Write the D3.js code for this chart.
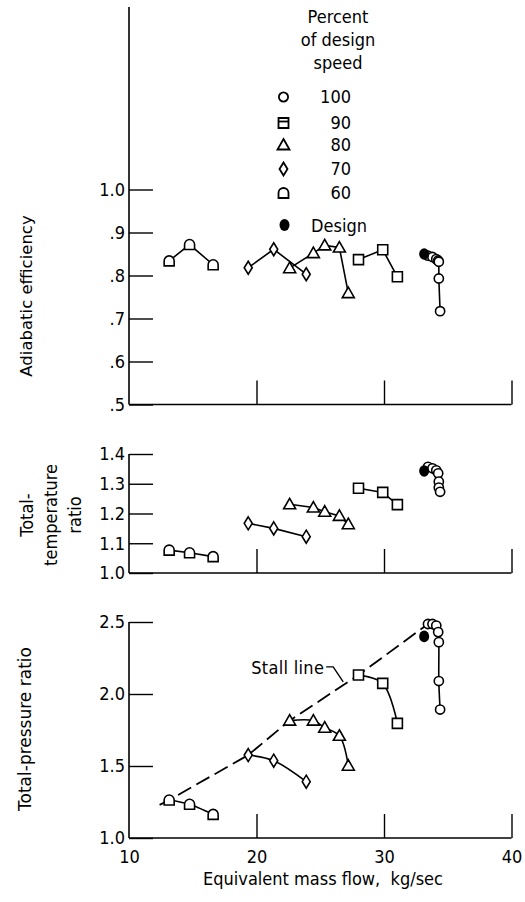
<!DOCTYPE html>
<html><head><meta charset="utf-8">
<script src="https://cdn.jsdelivr.net/npm/d3@7"></script>
<style>
html,body{margin:0;padding:0;background:#fff;}
svg{display:block;background:#fff;}
.cond{font-family:"DejaVu Sans Condensed","DejaVu Sans",sans-serif;font-stretch:condensed;font-size:18px;}
.reg{font-family:"DejaVu Sans",sans-serif;}
</style></head><body>
<svg id="chart" width="525" height="902"></svg>
<script>
// ---------------- data ----------------
const speeds = ["100", "90", "80", "70", "60"];

const flow100 = [33.45, 33.8, 34.1, 34.25, 34.3, 34.3, 34.4];
const eff100  = [0.846, 0.843, 0.838, 0.835, 0.832, 0.793, 0.717];
const temp100 = [1.357, 1.352, 1.345, 1.335, 1.307, 1.287, 1.273];
const pres100 = [2.486, 2.486, 2.475, 2.43, 2.36, 2.09, 1.892];

const flow90 = [28.0, 29.9, 31.05];
const eff90  = [0.837, 0.860, 0.797];
const temp90 = [1.285, 1.271, 1.230];
const pres90 = [2.132, 2.074, 1.796];

const flow80 = [22.6, 24.46, 25.35, 26.5, 27.2];
const eff80  = [0.817, 0.852, 0.870, 0.865, 0.759];
const temp80 = [1.231, 1.220, 1.206, 1.192, 1.164];
const pres80 = [1.815, 1.815, 1.766, 1.710, 1.502];

const flow70 = [19.35, 21.35, 23.9];
const eff70  = [0.818, 0.861, 0.803];
const temp70 = [1.167, 1.150, 1.122];
const pres70 = [1.576, 1.537, 1.391];

const flow60 = [13.15, 14.75, 16.6];
const eff60  = [0.834, 0.872, 0.825];
const temp60 = [1.077, 1.068, 1.055];
const pres60 = [1.264, 1.234, 1.164];

const designFlow = [33.15];
const designEff  = [0.850];
const designTemp = [1.343];
const designPres = [2.400];

const stallFlow = [12.4, 13.15, 19.35, 22.6, 28.0, 33.45];
const stallPres = [1.23, 1.264, 1.576, 1.815, 2.132, 2.486];

const flowTicks = [10, 20, 30, 40];
const effTicks  = [0.5, 0.6, 0.7, 0.8, 0.9, 1.0];
const tempTicks = [1.0, 1.1, 1.2, 1.3, 1.4];
const presTicks = [1.0, 1.5, 2.0, 2.5];

// ---------------- setup ----------------
const svg = d3.select("#chart");
const x = d3.scaleLinear().domain([10, 40]).range([129, 511.5]);
const yEff  = d3.scaleLinear().domain([0.5, 1.0]).range([404.5, 189.5]);
const yTemp = d3.scaleLinear().domain([1.0, 1.4]).range([573, 454]);
const yPres = d3.scaleLinear().domain([1.0, 2.5]).range([838, 622]);

const shapes = { "100": "circle", "90": "square", "80": "triangle", "70": "diamond", "60": "dome" };
const series = [
  { name: "100", flow: flow100, eff: eff100, temp: temp100, pres: pres100 },
  { name: "90",  flow: flow90,  eff: eff90,  temp: temp90,  pres: pres90 },
  { name: "80",  flow: flow80,  eff: eff80,  temp: temp80,  pres: pres80 },
  { name: "70",  flow: flow70,  eff: eff70,  temp: temp70,  pres: pres70 },
  { name: "60",  flow: flow60,  eff: eff60,  temp: temp60,  pres: pres60 }
];

function shapePath(kind) {
  switch (kind) {
    case "circle": { const r = 4.6; return `M${r},0A${r},${r} 0 1,1 ${-r},0A${r},${r} 0 1,1 ${r},0Z`; }
    case "square": return "M-5,-5H5V5H-5Z";
    case "triangle": return "M0,-6L6,4.5H-6Z";
    case "diamond": return "M0,-6.5L4,0L0,6.5L-4,0Z";
    case "dome": return "M-5,5V0A5,5 0 0,1 5,0V5Z";
  }
}

const panels = [
  { key: "eff",  y: yEff,  ticks: effTicks,  curve: d3.curveLinear, top: 7,
    fmt: d => d === 1 ? "1.0" : d3.format(".1f")(d).replace(/^0/, "") },
  { key: "temp", y: yTemp, ticks: tempTicks, curve: d3.curveLinear, top: null,
    fmt: d3.format(".1f") },
  { key: "pres", y: yPres, ticks: presTicks, curve: d3.curveCatmullRom.alpha(0.5), top: null,
    fmt: d3.format(".1f") }
];

panels.forEach((p, i) => {
  const g = svg.append("g");
  const y0 = p.y.range()[0];
  const yTop = p.top !== null ? p.top : p.y.range()[1];
  // axis lines
  g.append("line").attr("x1", x(10)).attr("x2", x(10)).attr("y1", yTop).attr("y2", y0)
    .attr("stroke", "#000").attr("stroke-width", 1.6);
  g.append("line").attr("x1", x(10)).attr("x2", x(40)).attr("y1", y0).attr("y2", y0)
    .attr("stroke", "#000").attr("stroke-width", 1.6);
  // y axis ticks + labels
  const ya = g.append("g").attr("transform", `translate(${x(10)},0)`)
    .call(d3.axisLeft(p.y).tickValues(p.ticks).tickSize(-24).tickSizeOuter(0).tickPadding(4).tickFormat(p.fmt));
  ya.select(".domain").remove();
  ya.selectAll("line").attr("stroke", "#000").attr("stroke-width", 1.4);
  ya.selectAll("text").attr("class", "cond").attr("font-size", null).attr("font-family", null).attr("fill", "#000");
  ya.attr("font-size", null).attr("font-family", null);
  // x axis ticks
  const isBottom = i === panels.length - 1;
  const xa = g.append("g").attr("transform", `translate(0,${y0})`)
    .call(d3.axisBottom(x).tickValues(isBottom ? flowTicks : flowTicks.slice(1)).tickSize(-24).tickSizeOuter(0).tickPadding(12)
      .tickFormat(isBottom ? d3.format("d") : () => ""));
  xa.select(".domain").remove();
  xa.selectAll("line").attr("stroke", "#000").attr("stroke-width", 1.4);
  xa.selectAll("text").attr("class", "cond").attr("fill", "#000");
  xa.attr("font-size", null).attr("font-family", null);
  xa.selectAll(".tick").filter(d => d === 10).select("line").remove();

  // stall line
  if (p.key === "pres") {
    const stall = stallFlow.map((f, k) => [f, stallPres[k]]);
    g.append("path").attr("d", d3.line().x(d => x(d[0])).y(d => yPres(d[1]))(stall))
      .attr("fill", "none").attr("stroke", "#000").attr("stroke-width", 1.8).attr("stroke-dasharray", "15,6");
    const ax = x(26.8), ay = yPres(2.07);
    g.append("path").attr("d", `M${ax - 17},${ay - 17}H${ax - 10}L${ax},${ay - 2}`)
      .attr("fill", "none").attr("stroke", "#000").attr("stroke-width", 1.4);
    g.append("text").attr("class", "cond").attr("x", ax - 19).attr("y", ay - 10)
      .attr("text-anchor", "end").style("letter-spacing", "0.3px").text("Stall line");
  }

  // series lines
  const line = d3.line().x(d => x(d[0])).y(d => p.y(d[1])).curve(p.curve);
  series.forEach(s => {
    const pts = s.flow.map((f, k) => [f, s[p.key][k]]);
    g.append("path").attr("d", line(pts)).attr("fill", "none").attr("stroke", "#000").attr("stroke-width", 1.6);
  });
  // markers
  series.forEach(s => {
    const pts = s.flow.map((f, k) => [f, s[p.key][k]]);
    g.selectAll(null).data(pts).enter().append("path")
      .attr("d", shapePath(shapes[s.name]))
      .attr("transform", d => `translate(${x(d[0])},${p.y(d[1])})`)
      .attr("fill", "#fff").attr("stroke", "#000").attr("stroke-width", 1.6);
  });
  // design point
  const dv = p.key === "eff" ? designEff : p.key === "temp" ? designTemp : designPres;
  g.selectAll(null).data(designFlow.map((f, k) => [f, dv[k]])).enter().append("ellipse")
    .attr("cx", d => x(d[0])).attr("cy", d => p.y(d[1])).attr("rx", 5).attr("ry", 5.8).attr("fill", "#000");
});

// axis titles
svg.append("text").attr("class", "reg").attr("font-size", 16.5)
  .attr("transform", "translate(32,296) rotate(-90)").attr("text-anchor", "middle").text("Adiabatic efficiency");
const tt = svg.append("g").attr("class", "cond");
[["Total-", 33], ["temperature", 57], ["ratio", 81]].forEach(([t, bx]) => {
  tt.append("text").attr("transform", `translate(${bx},515) rotate(-90)`).attr("text-anchor", "middle").text(t);
});
svg.append("text").attr("class", "reg").attr("font-size", 17)
  .attr("transform", "translate(31,729) rotate(-90)").attr("text-anchor", "middle").text("Total-pressure ratio");
svg.append("text").attr("class", "cond").attr("x", 323).attr("y", 885).attr("text-anchor", "middle")
  .attr("xml:space", "preserve").style("white-space", "pre").text("Equivalent mass flow,  kg/sec");

// legend
const lg = svg.append("g");
[["Percent", 17], ["of design", 40], ["speed", 63]].forEach(([t, cy]) => {
  lg.append("text").attr("class", "cond").attr("x", 338).attr("y", cy).attr("dy", "0.35em")
    .attr("text-anchor", "middle").text(t);
});
const rowY = [97, 123, 145, 169, 193];
speeds.forEach((s, i) => {
  lg.append("path").attr("d", shapePath(shapes[s])).attr("transform", `translate(283.5,${rowY[i]})`)
    .attr("fill", "#fff").attr("stroke", "#000").attr("stroke-width", 1.8);
  if (s === "90") {
    lg.append("path").attr("d", "M-5,-1.5H5").attr("transform", `translate(283.5,${rowY[i]})`)
      .attr("stroke", "#000").attr("stroke-width", 1.8);
  }
  lg.append("text").attr("class", "cond").attr("x", 351).attr("y", rowY[i]).attr("dy", "0.35em")
    .attr("text-anchor", "end").text(s);
});
lg.append("ellipse").attr("cx", 284.5).attr("cy", 225).attr("rx", 5).attr("ry", 6).attr("fill", "#000");
lg.append("text").attr("class", "cond").attr("x", 311).attr("y", 226).attr("dy", "0.35em").text("Design");
</script>
</body></html>
